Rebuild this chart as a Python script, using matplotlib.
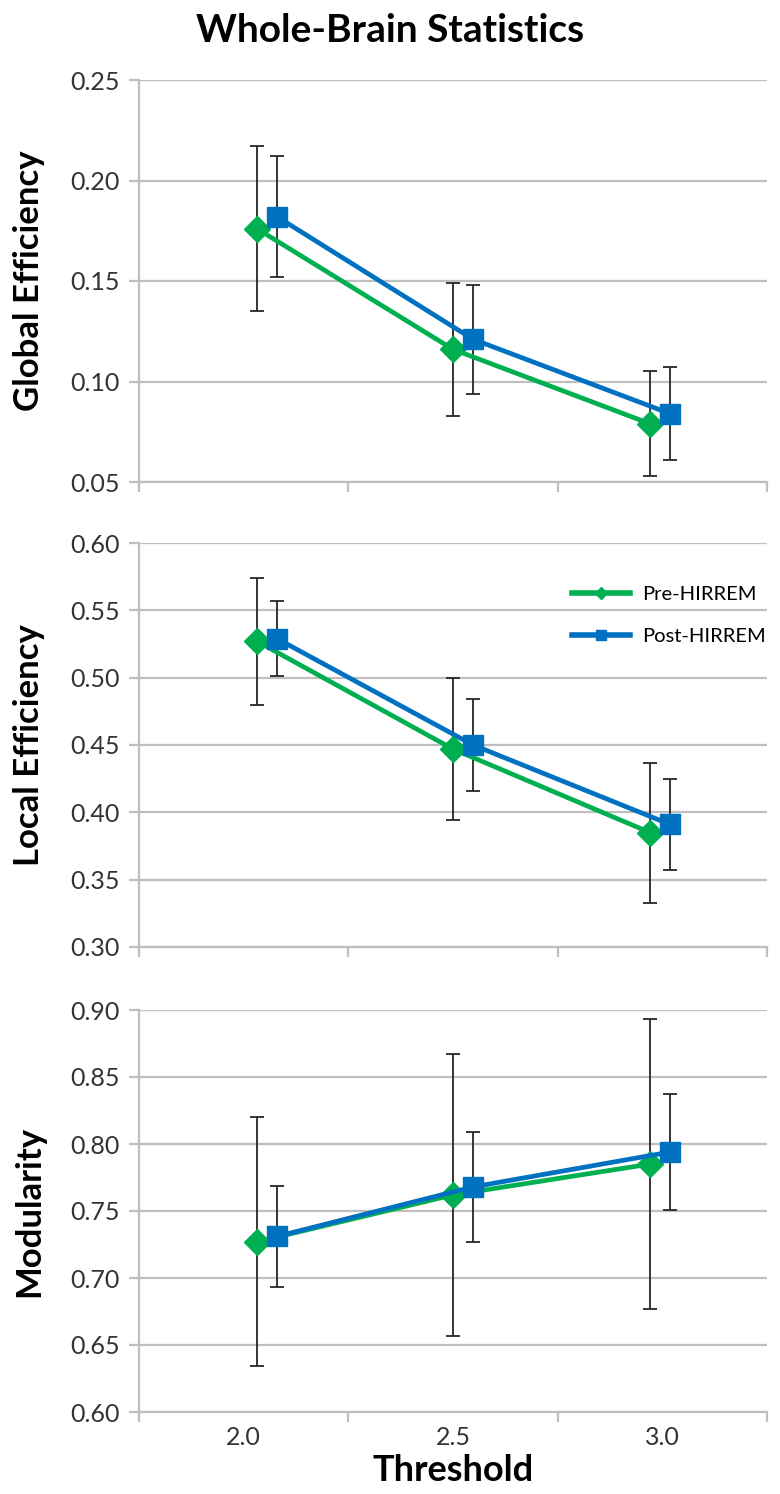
import numpy as np
import matplotlib
matplotlib.use('Agg')
import matplotlib.pyplot as plt
from matplotlib.lines import Line2D

plt.rcParams['font.family'] = ['Lato', 'DejaVu Sans']

thresholds = ['2.0', '2.5', '3.0']

glob_pre = [0.176, 0.116, 0.079]
glob_pre_err = [0.041, 0.033, 0.026]
glob_post = [0.182, 0.121, 0.084]
glob_post_err = [0.030, 0.027, 0.023]

loc_pre = [0.527, 0.447, 0.385]
loc_pre_err = [0.047, 0.053, 0.052]
loc_post = [0.529, 0.450, 0.391]
loc_post_err = [0.028, 0.034, 0.034]

mod_pre = [0.727, 0.762, 0.785]
mod_pre_err = [0.093, 0.105, 0.108]
mod_post = [0.731, 0.768, 0.794]
mod_post_err = [0.038, 0.041, 0.043]

panels = [
    ('Global Efficiency', glob_pre, glob_pre_err, glob_post, glob_post_err, (0.05, 0.25)),
    ('Local Efficiency', loc_pre, loc_pre_err, loc_post, loc_post_err, (0.30, 0.60)),
    ('Modularity', mod_pre, mod_pre_err, mod_post, mod_post_err, (0.60, 0.90)),
]

# horizontal placement of the two series inside each category
pre_shift = np.array([0.064, 0.0, -0.059])
post_shift = np.array([0.159, 0.096, 0.037])

green = '#00B050'
blue = '#0070C0'
grid_c = '#BFBFBF'
txt_c = '#333333'

W, H = 780, 1494
fig = plt.figure(figsize=(W / 100, H / 100), dpi=100)

# axes boxes in pixels: top, bottom
boxes = [(80, 482), (543, 947), (1010, 1412)]
x0, x1 = 139, 767

cats = np.arange(len(thresholds))
for i, (name, pre, pre_e, post, post_e, lim) in enumerate(panels):
    top, bot = boxes[i]
    ax = fig.add_axes([x0 / W, 1 - bot / H, (x1 - x0) / W, (bot - top) / H])
    ax.errorbar(cats + pre_shift, pre, yerr=pre_e, color=green, lw=3.4,
                marker='D', ms=13, mec=green, ecolor='#262626', elinewidth=1.3,
                capsize=5, capthick=1.3, zorder=3)
    ax.errorbar(cats + post_shift, post, yerr=post_e, color=blue, lw=3.4,
                marker='s', ms=15, mec=blue, ecolor='#262626', elinewidth=1.3,
                capsize=5, capthick=1.3, zorder=3)
    ax.set_xlim(-0.5, 2.5)
    ax.set_ylim(*lim)
    ticks = np.round(np.arange(lim[0], lim[1] + 0.001, 0.05), 2)
    ax.set_yticks(ticks)
    ax.set_yticklabels(['%.2f' % t for t in ticks], fontsize=18, color=txt_c)
    ax.yaxis.grid(True, color=grid_c, lw=1.6)
    ax.set_axisbelow(True)
    for s in ['top', 'right']:
        ax.spines[s].set_visible(False)
    for s in ['left', 'bottom']:
        ax.spines[s].set_color(grid_c)
        ax.spines[s].set_linewidth(1.6)
    ax.tick_params(axis='y', length=7, width=1.6, color=grid_c, pad=7)
    ax.set_xticks([-0.5, 0.5, 1.5, 2.5])
    ax.set_xticks(cats, minor=True)
    ax.tick_params(axis='x', which='major', length=7, width=1.6, color=grid_c, labelbottom=False)
    ax.tick_params(axis='x', which='minor', length=0, labelsize=18, labelcolor=txt_c, pad=10)
    if i == 2:
        ax.set_xticklabels(thresholds, minor=True)
        ax.set_xlabel('Threshold', fontsize=26, fontweight='bold', labelpad=4)
    else:
        ax.set_xticklabels([], minor=True)
    fig.text(29 / W, 1 - (top + bot) / 2 / H, name, rotation=90, ha='center', va='center',
             fontsize=25, fontweight='bold')
    if i == 1:
        handles = [Line2D([], [], color=green, lw=4, marker='D', ms=6),
                   Line2D([], [], color=blue, lw=4, marker='s', ms=7)]
        ax.legend(handles, ['Pre-HIRREM', 'Post-HIRREM'], loc='center left',
                  bbox_to_anchor=(0.66, 0.82), frameon=False, fontsize=14.5,
                  handlelength=2.9, handletextpad=0.6, labelspacing=1.25)

fig.text(0.5, 1 - 30 / H, 'Whole-Brain Statistics', ha='center', va='center',
         fontsize=28, fontweight='bold')

fig.savefig('out.png', dpi=100)
